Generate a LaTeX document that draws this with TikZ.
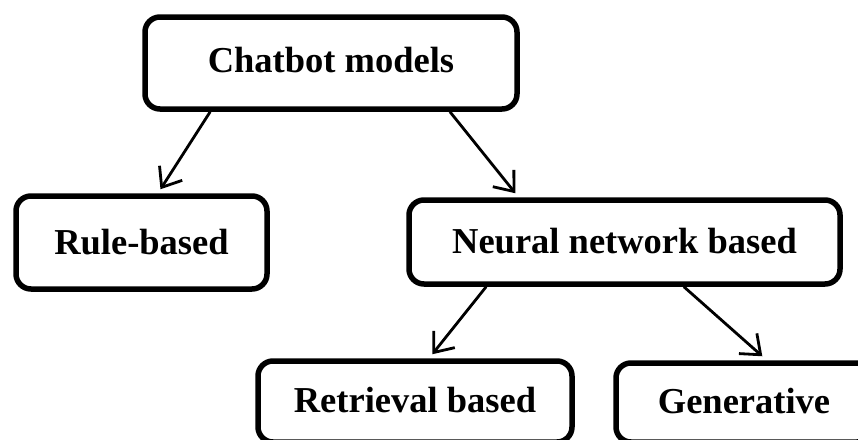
\documentclass[tikz,border=0pt]{standalone}
\usepackage{fontspec}
\setmainfont{Liberation Serif}
\usetikzlibrary{arrows.meta,calc}

\begin{document}
\begin{tikzpicture}[x=1pt,y=-1pt,
  box/.style={draw=black, line width=5.5pt, rounded corners=15pt, fill=white,
    inner sep=0pt, align=center,
    font=\fontsize{36.5}{42}\selectfont\bfseries},
  link/.style={draw=black, line width=2.8pt,
    -{Straight Barb[length=17pt,width=27pt,line width=2.8pt]}}
]
\useasboundingbox (0,0) rectangle (858,439);
\clip (0,0) rectangle (858,439);

% boxes (centre, then centre-line width and height)
\node[box, minimum width=372pt, minimum height=92pt] (chat) at (331,63)
  {\raisebox{6pt}{Chatbot models}};
\node[box, minimum width=251pt, minimum height=93pt] (rule) at (141.5,242.5)
  {Rule-based};
\node[box, minimum width=431pt, minimum height=84pt] (neural) at (624.5,242)
  {\raisebox{3pt}{Neural network based}};
\node[box, minimum width=314pt, minimum height=81pt] (retr) at (415,401.5)
  {\raisebox{3pt}{Retrieval based}};
\node[box, minimum width=256pt, minimum height=79pt] (gen) at (744,402.5)
  {\raisebox{4pt}{Generative}};

% connectors
\draw[link] ($(chat.south west)!0.18!(chat.south east)$) --
            ($(rule.north west)!0.574!(rule.north east)+(0,-4)$);
\draw[link] ($(chat.south west)!0.815!(chat.south east)$) --
            ($(neural.north west)!0.25!(neural.north east)+(0,-4)$);
\draw[link] ($(neural.south west)!0.183!(neural.south east)$) --
            ($(retr.north west)!0.554!(retr.north east)+(0,-4)$);
\draw[link] ($(neural.south west)!0.636!(neural.south east)$) --
            ($(gen.north west)!0.57!(gen.north east)+(0,-4)$);
\end{tikzpicture}
\end{document}
